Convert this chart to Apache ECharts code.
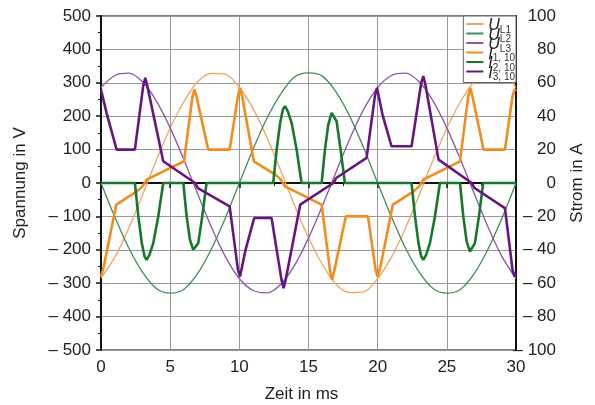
<!DOCTYPE html>
<html>
<head>
<meta charset="utf-8">
<script src="https://cdn.jsdelivr.net/npm/echarts@6/dist/echarts.min.js"></script>
<style>
  html, body { margin: 0; padding: 0; background: #fff; }
  #chart { width: 595px; height: 405px; }
</style>
</head>
<body>
<div id="chart"></div>
<script>
// Zeitachse der Spannungen (ms)
const voltTime = [0, 1, 2, 3, 4, 5, 6, 7, 8, 9, 10, 11, 12, 13, 14, 15, 16, 17, 18, 19, 20, 21, 22, 23, 24, 25, 26, 27, 28, 29, 30]
// Spannungen in V
const uL1 = [-284, -222, -136, -36, 68, 164, 244, 304, 328, 326, 286, 222, 136, 36, -68, -164, -244, -304, -328, -326, -286, -222, -136, -36, 68, 164, 244, 304, 328, 326, 286]
const uL2 = [0, -102, -194, -267, -316, -330, -318, -270, -196, -104, 0, 102, 194, 267, 318, 330, 320, 272, 198, 104, 0, -102, -194, -267, -316, -330, -318, -270, -196, -104, 0]
const uL3 = [286, 322, 329, 303, 246, 165, 69, -34, -134, -221, -286, -322, -329, -303, -246, -165, -69, 34, 134, 221, 286, 322, 329, 303, 246, 165, 69, -34, -134, -221, -286]

// Ströme in A, Paare [Zeit in ms, Strom]
const i1 = [[0, -56], [0.2, -50], [1.1, -13], [2.6, -5], [3.0, -2], [3.3, 2], [6.0, 13], [6.6, 51], [6.75, 56], [6.9, 52],
  [7.75, 20], [9.3, 20], [9.9, 52], [10.05, 57], [10.2, 52], [11.05, 13], [12.6, 5], [13.0, 2], [13.3, -2],
  [15.95, -13], [16.55, -52], [16.7, -58], [16.85, -53], [17.7, -20], [19.3, -20], [19.85, -52], [20.0, -56], [20.2, -50],
  [21.1, -13], [22.6, -5], [23.0, -2], [23.3, 2], [25.95, 13], [26.55, 52], [26.7, 57], [26.85, 52],
  [27.65, 20], [29.2, 20], [29.75, 52], [29.9, 56], [30, 55]]
const i2 = [[0, 0], [2.45, 0], [2.7, -20], [2.95, -36], [3.15, -44], [3.3, -46], [3.5, -43], [3.78, -36], [4.14, -20], [4.5, 0],
  [5.95, 0], [6.19, -20], [6.43, -34], [6.67, -40], [7.03, -36], [7.32, -20], [7.63, 0],
  [12.45, 0], [12.7, 20], [12.95, 36], [13.15, 44], [13.3, 46], [13.5, 43], [13.78, 36], [14.14, 20], [14.5, 0],
  [15.95, 0], [16.19, 20], [16.43, 35], [16.67, 42], [17.03, 37], [17.32, 20], [17.63, 0],
  [22.45, 0], [22.7, -20], [22.95, -36], [23.15, -44], [23.3, -46], [23.5, -43], [23.78, -36], [24.14, -20], [24.5, 0],
  [25.95, 0], [26.19, -20], [26.43, -35], [26.67, -41], [27.03, -36], [27.32, -20], [27.63, 0], [30, 0]]
const i3 = [[0, 56], [0.4, 42], [1.13, 20], [2.45, 20], [3.05, 58], [3.2, 63], [3.35, 58], [4.5, 13], [6.8, 0], [7.0, -3], [9.3, -14],
  [9.9, -52], [10.05, -56], [10.45, -40], [11.07, -21], [12.33, -21], [13.05, -58], [13.2, -63], [13.35, -58], [14.4, -13],
  [16.8, 0], [17.0, 3], [19.2, 15], [19.8, 52], [19.95, 57], [20.35, 41], [21.0, 22], [22.45, 22],
  [23.15, 60], [23.3, 64], [23.45, 59], [24.4, 14], [26.8, 0], [27.0, -3], [29.2, -15], [29.75, -52], [29.9, -56], [30, -54]]

// Legende
const seriesNames = ['UL1', 'UL2', 'UL3', 'I1', 'I2', 'I3']
const legendMain = ['U', 'U', 'U', 'I', 'I', 'I']
const legendSub = ['L1', 'L2', 'L3', '1, 10', '2, 10', '3, 10']
const colors = ['#F3A45C', '#3F8F55', '#8B55A8', '#F28C1E', '#16782A', '#65177F']

const font = "'Liberation Sans', Arial, sans-serif"
const dash = v => (v < 0 ? '\u2013 ' + (-v) : String(v))

const pairs = vals => vals.map((v, k) => [voltTime[k], v])

const thin = (idx, data) => ({
  name: seriesNames[idx], type: 'line', data: data, yAxisIndex: 0,
  symbol: 'none', smooth: 0.3, lineStyle: { color: colors[idx], width: 1.3 },
  itemStyle: { color: colors[idx] }, z: 2
})
const thick = (idx, data) => ({
  name: seriesNames[idx], type: 'line', data: data, yAxisIndex: 1,
  symbol: 'none', lineStyle: { color: colors[idx], width: 2.6 },
  itemStyle: { color: colors[idx] }, z: 3
})

const myChart = echarts.init(document.getElementById('chart'))
myChart.setOption({
  animation: false,
  textStyle: { fontFamily: font },
  grid: {
    left: 101, right: 79, top: 16, bottom: 55, outerBoundsMode: 'none',
    show: true, borderColor: '#555', borderWidth: 1.5
  },
  legend: {
    orient: 'vertical', right: 79, top: 16,
    itemWidth: 17, itemHeight: 11, itemGap: -9.5,
    padding: [0, 1, 0, 2],
    backgroundColor: '#fff', borderColor: '#666', borderWidth: 1,
    itemStyle: { opacity: 0 },
    data: seriesNames,
    formatter: name => {
      const k = seriesNames.indexOf(name)
      return '{m|' + legendMain[k] + '}{s|' + legendSub[k] + '}'
    },
    textStyle: {
      rich: {
        m: { fontFamily: font, fontSize: 16, fontStyle: 'italic', color: '#222', lineHeight: 11, padding: [2, 0, -2, 0] },
        s: { fontFamily: font, fontSize: 10, color: '#333', lineHeight: 11, padding: [6, 0, -6, 0] }
      }
    }
  },
  xAxis: {
    type: 'value', min: 0, max: 30, interval: 5,
    name: 'Zeit in ms', nameLocation: 'middle', nameGap: 36,
    nameTextStyle: { fontSize: 17, color: '#222', fontFamily: font, padding: [0, 14, 0, 0] },
    axisLine: { lineStyle: { color: '#111', width: 2 } },
    axisTick: { length: 5, lineStyle: { color: '#111', width: 1.5 } },
    minorTick: { show: true, splitNumber: 2, length: 3, lineStyle: { color: '#111' } },
    axisLabel: { fontSize: 17, color: '#222', margin: 9, fontFamily: font },
    splitLine: { show: true, lineStyle: { color: '#999', width: 1 } }
  },
  yAxis: [{
    type: 'value', min: -500, max: 500, interval: 100, position: 'left',
    name: 'Spannung in V', nameLocation: 'middle', nameGap: 72,
    nameTextStyle: { fontSize: 17, color: '#222', fontFamily: font },
    axisLine: { show: true, lineStyle: { color: '#111', width: 2 } },
    axisTick: { show: true, length: 5, lineStyle: { color: '#111', width: 1.5 } },
    minorTick: { show: true, splitNumber: 2, length: 3, lineStyle: { color: '#111' } },
    axisLabel: { fontSize: 17, color: '#222', margin: 10, fontFamily: font, formatter: dash },
    splitLine: { show: true, lineStyle: { color: '#999', width: 1 } }
  }, {
    type: 'value', min: -100, max: 100, interval: 20, position: 'right',
    name: 'Strom in A', nameLocation: 'middle', nameGap: 53,
    nameTextStyle: { fontSize: 17, color: '#222', fontFamily: font },
    axisLine: { show: true, lineStyle: { color: '#111', width: 2 } },
    axisTick: { show: false },
    axisLabel: { fontSize: 17, color: '#222', margin: 40, align: 'right', fontFamily: font, formatter: dash },
    splitLine: { show: false }
  }],
  series: [
    thin(0, pairs(uL1)),
    thin(1, pairs(uL2)),
    thin(2, pairs(uL3)),
    thick(3, i1),
    thick(4, i2),
    thick(5, i3)
  ]
})
</script>
</body>
</html>
